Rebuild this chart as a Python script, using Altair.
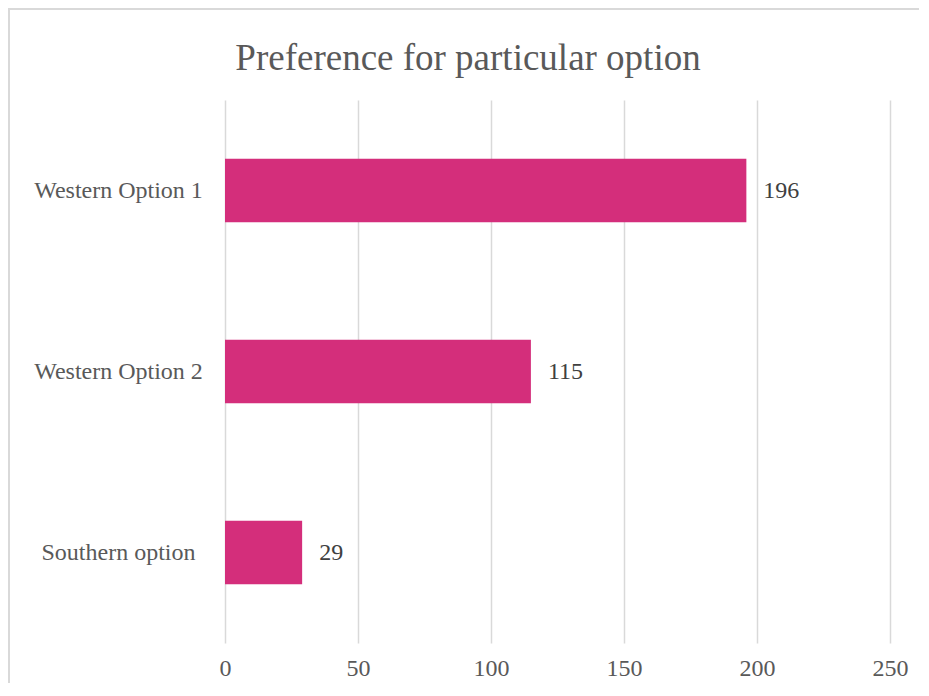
import altair as alt
import pandas as pd

categories = ["Western Option 1", "Western Option 2", "Southern option"]
values = [196, 115, 29]
x_ticks = [0, 50, 100, 150, 200, 250]
title_text = ["Preference for particular option"]

df = pd.DataFrame({"option": categories, "count": values})
tdf = pd.DataFrame({"t": title_text})

FONT = "Liberation Serif"
BAR = "#D42E7B"

y_enc = alt.Y("option:N", sort=categories, title=None,
              scale=alt.Scale(paddingInner=0.65, paddingOuter=0.325),
              axis=alt.Axis(labelAlign="center", labelPadding=107, ticks=False,
                            domain=False, labelFont=FONT, labelFontSize=24,
                            labelColor="#595959", grid=False))
x_enc = alt.X("count:Q", title=None,
              scale=alt.Scale(domain=[0, 250], nice=False),
              axis=alt.Axis(values=x_ticks, grid=True, gridColor="#D9D9D9",
                            gridWidth=1.5, domain=False, ticks=False,
                            labelFlush=False,
                            labelFont=FONT, labelFontSize=24, labelColor="#595959",
                            labelPadding=13))

bars = alt.Chart(df).mark_bar(color=BAR).encode(x=x_enc, y=y_enc)
labels = alt.Chart(df).mark_text(align="left", dx=17, font=FONT, fontSize=24,
                                 color="#404040").encode(
    x="count:Q", y=alt.Y("option:N", sort=categories), text="count:Q")

title = alt.Chart(tdf).mark_text(font=FONT, fontSize=37, color="#595959",
                                 align="center", baseline="alphabetic").encode(
    x=alt.value(243), y=alt.value(-30), text="t:N")

border = alt.Chart(df).mark_rule(color="#D9D9D9", strokeWidth=1.5).encode(
    x=alt.value(-216), x2=alt.value(-216), y=alt.value(-92), y2=alt.value(640))
border_top = alt.Chart(df).mark_rule(color="#D9D9D9", strokeWidth=1.5).encode(
    x=alt.value(-216), x2=alt.value(694), y=alt.value(-91), y2=alt.value(-91))

chart = alt.layer(border, border_top, bars, labels, title).properties(
    width=665, height=543,
    autosize=alt.AutoSizeParams(type="none"),
    padding={"left": 217, "top": 92, "right": 29, "bottom": 40},
).configure_view(stroke=None)

chart.save("out.html", embed_options={"renderer": "svg", "actions": False})
